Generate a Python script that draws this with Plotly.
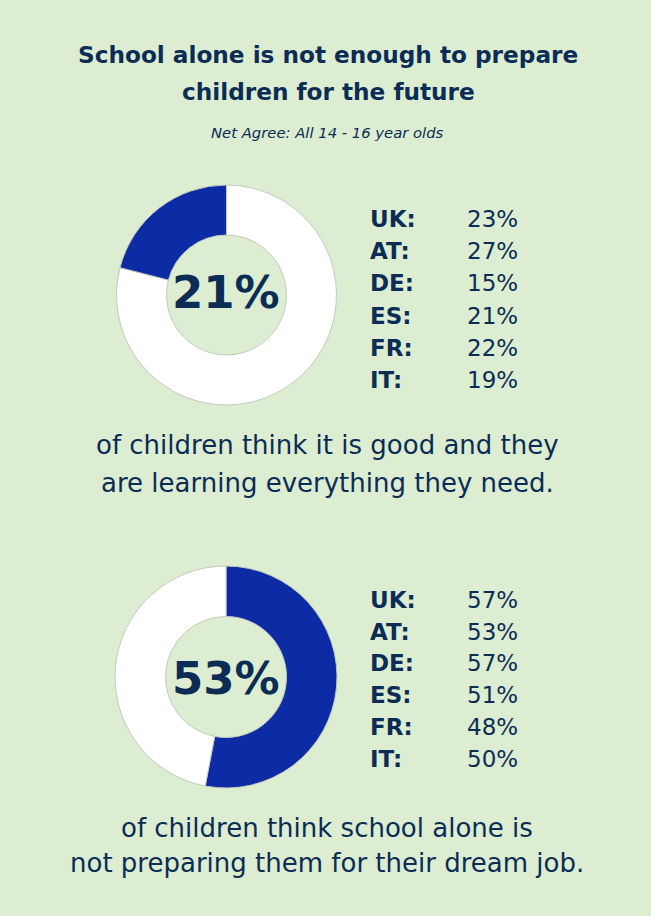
import plotly.graph_objects as go

# ---- data ----
title_lines = ["School alone is not enough to prepare", "children for the future"]
subtitle = "Net Agree: All 14 - 16 year olds"
countries = ["UK:", "AT:", "DE:", "ES:", "FR:", "IT:"]
q1_total = 21
q1_values = [23, 27, 15, 21, 22, 19]
q1_caption = ["of children think it is good and they", "are learning everything they need."]
q2_total = 53
q2_values = [57, 53, 57, 51, 48, 50]
q2_caption = ["of children think school alone is", "not preparing them for their dream job."]

# ---- style ----
W, H = 651, 916
BG = "#dcedd1"
NAVY = "#0b2c55"
BLUE = "#0e2ba6"
FONT = "DejaVu Sans"

def px(x):
    return x / W

def py(y):
    return 1 - y / H

fig = go.Figure()

def donut(total, cx, cy, r, agree_first):
    vals = [total, 100 - total]
    cols = [BLUE, "#ffffff"]
    labs = ["Agree", "Other"]
    if not agree_first:
        vals, cols, labs = vals[::-1], cols[::-1], labs[::-1]
    fig.add_trace(go.Pie(
        values=vals,
        labels=labs,
        sort=False,
        direction="clockwise",
        rotation=0,
        hole=0.545,
        textinfo="none",
        hoverinfo="skip",
        marker=dict(colors=cols, line=dict(color="#c3cbbb", width=1)),
        domain=dict(x=[px(cx - r), px(cx + r)], y=[py(cy + r), py(cy - r)]),
        showlegend=False,
    ))

donut(q1_total, 226.5, 295, 110, agree_first=False)
donut(q2_total, 226, 677, 111, agree_first=True)

ann = []

def text(s, x, y, size, bold=False, italic=False, xanchor="center"):
    ann.append(dict(
        text=s, x=px(x), y=py(y), xref="paper", yref="paper",
        xanchor=xanchor, yanchor="middle", showarrow=False,
        font=dict(family=FONT, size=size, color=NAVY,
                  weight=700 if bold else 400,
                  style="italic" if italic else "normal"),
    ))

text(title_lines[0], 328, 55, 23.2, bold=True)
text(title_lines[1], 328, 91, 23.2, bold=True)
text(subtitle, 327, 132, 14.8, italic=True)

text(f"{q1_total}%", 226, 293, 45, bold=True)
text(f"{q2_total}%", 226, 678, 45, bold=True)

rows1 = [219, 251, 283, 316, 348, 380]
rows2 = [600, 632, 663, 695, 727, 759]
for c, v, y in zip(countries, q1_values, rows1):
    text(c, 368, y, 23, bold=True, xanchor="left")
    text(f"{v}%", 465, y, 23, xanchor="left")
for c, v, y in zip(countries, q2_values, rows2):
    text(c, 368, y, 23, bold=True, xanchor="left")
    text(f"{v}%", 465, y, 23, xanchor="left")

text(q1_caption[0], 327, 445, 26)
text(q1_caption[1], 327, 483, 26)
text(q2_caption[0], 327, 828, 26)
text(q2_caption[1], 327, 863, 26)

fig.update_layout(
    width=W, height=H,
    margin=dict(l=0, r=0, t=0, b=0),
    paper_bgcolor=BG, plot_bgcolor=BG,
    annotations=ann,
)

fig.write_html(
    "out.html",
    config={"displayModeBar": False},
    post_script="document.body.style.margin='0';document.body.style.padding='0';document.body.style.background='%s';" % BG,
)
